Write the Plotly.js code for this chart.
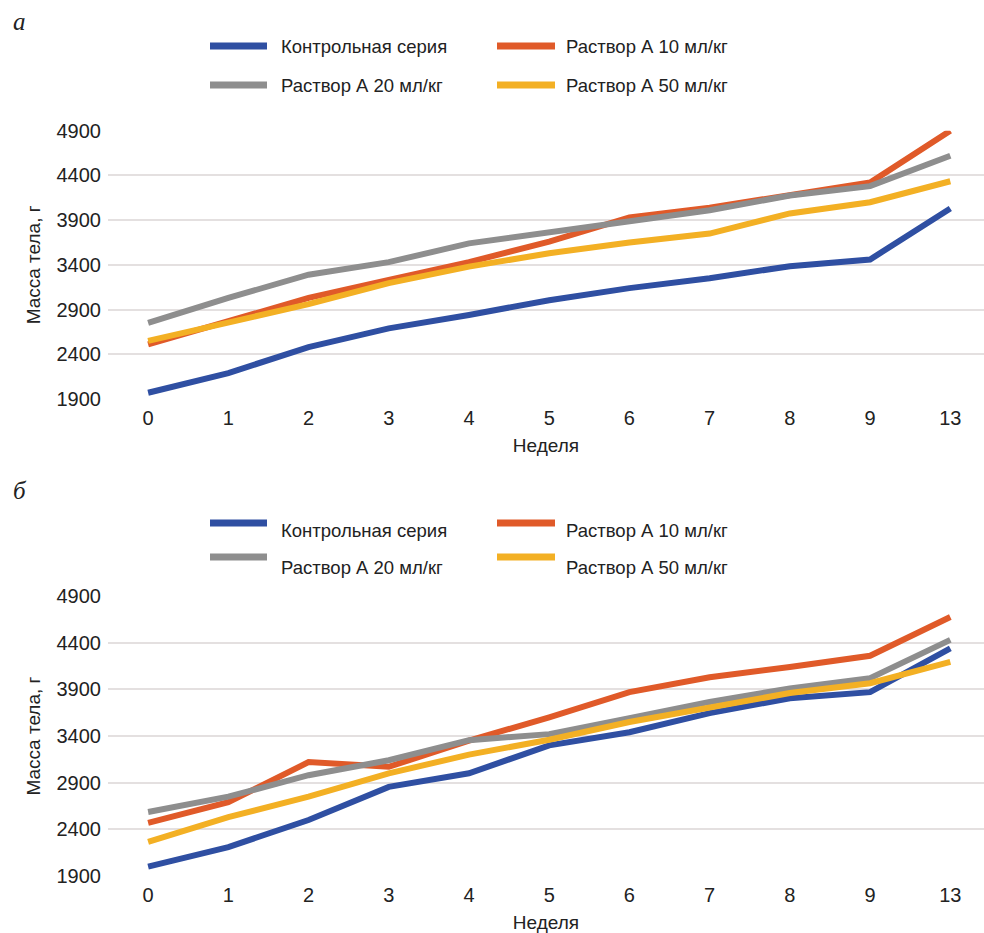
<!DOCTYPE html>
<html>
<head>
<meta charset="utf-8">
<script src="https://cdn.plot.ly/plotly-3.0.1.min.js"></script>
<style>
  html, body { margin: 0; padding: 0; background: #ffffff; }
  #chart { width: 984px; height: 933px; }
</style>
</head>
<body>
<div id="chart"></div>
<script>
// ---- data ----
const weeks = ["0", "1", "2", "3", "4", "5", "6", "7", "8", "9", "13"];
const seriesNames = ["Контрольная серия", "Раствор А 10 мл/кг", "Раствор А 20 мл/кг", "Раствор А 50 мл/кг"];
const seriesColors = ["#2f4fa2", "#e05a29", "#8e8e8e", "#f3b024"];

// panel а
const aControl = [1970, 2190, 2480, 2690, 2840, 3005, 3140, 3250, 3385, 3460, 4030];
const aDose10  = [2510, 2770, 3030, 3230, 3430, 3660, 3930, 4040, 4175, 4320, 4900];
const aDose20  = [2750, 3030, 3290, 3430, 3640, 3765, 3875, 4010, 4175, 4280, 4620];
const aDose50  = [2550, 2750, 2960, 3195, 3380, 3530, 3650, 3750, 3975, 4100, 4335];

// panel б
const bControl = [2000, 2210, 2500, 2855, 3000, 3300, 3440, 3645, 3805, 3870, 4340];
const bDose10  = [2470, 2690, 3120, 3070, 3350, 3600, 3870, 4030, 4140, 4260, 4675];
const bDose20  = [2585, 2750, 2980, 3140, 3355, 3420, 3590, 3765, 3910, 4020, 4430];
const bDose50  = [2265, 2530, 2750, 3000, 3200, 3360, 3550, 3700, 3860, 3965, 4195];

const yTicks = [1900, 2400, 2900, 3400, 3900, 4400, 4900];
const panelLabels = ["а", "б"];
const xTitle = "Неделя";
const yTitle = "Масса тела, г";

// ---- build ----
const W = 984, H = 933;
const idx = weeks.map((_, i) => i);
const px = v => v / W;
const py = v => 1 - v / H;

const aSeries = [aControl, aDose10, aDose20, aDose50];
const bSeries = [bControl, bDose10, bDose20, bDose50];

const traces = [];
[[aSeries, "x", "y"], [bSeries, "x2", "y2"]].forEach(([set, xa, ya]) => {
  set.forEach((vals, k) => {
    traces.push({
      type: "scatter", mode: "lines",
      x: idx, y: vals, name: seriesNames[k],
      xaxis: xa, yaxis: ya,
      line: { color: seriesColors[k], width: 6, shape: "linear" },
      showlegend: false, hoverinfo: "x+y+name"
    });
  });
});

const tickFont = { family: "Liberation Sans, Arial, sans-serif", size: 20, color: "#222222" };
const titleFont = { family: "Liberation Sans, Arial, sans-serif", size: 19, color: "#222222" };
const legendFont = { family: "Liberation Sans, Arial, sans-serif", size: 18.5, color: "#222222" };

function xAxis(anchor) {
  return {
    anchor: anchor, domain: [px(108), 1],
    range: [-0.5, 10.42], tickmode: "array", tickvals: idx, ticktext: weeks,
    showgrid: false, zeroline: false, showline: false, ticks: "",
    ticklabelstandoff: 5, tickfont: tickFont, fixedrange: true,
    title: { text: xTitle, font: titleFont, standoff: 10 }
  };
}
function yAxis(anchor, dom) {
  return {
    anchor: anchor, domain: dom, range: [1900, 4900],
    tickmode: "array", tickvals: yTicks, ticktext: yTicks.map(String),
    showgrid: true, gridcolor: "#e4e0e0", gridwidth: 2,
    zeroline: false, showline: false, ticks: "",
    ticklabelstandoff: 6, tickfont: tickFont, fixedrange: true,
    title: { text: yTitle, font: titleFont, standoff: 10 }
  };
}

const shapes = [];
const annotations = [];

// custom legends
const legendRows = [
  { lineY: [46, 85], textY: [46, 85] },
  { lineY: [523, 557], textY: [530, 567] }
];
const colLine = [[210, 267], [497, 555]];
const colText = [279, 564];
legendRows.forEach(rows => {
  seriesNames.forEach((name, k) => {
    const col = k % 2, row = Math.floor(k / 2);
    shapes.push({
      type: "line", xref: "paper", yref: "paper",
      x0: px(colLine[col][0]), x1: px(colLine[col][1]),
      y0: py(rows.lineY[row]), y1: py(rows.lineY[row]),
      line: { color: seriesColors[k], width: 7 }
    });
    annotations.push({
      xref: "paper", yref: "paper", x: px(colText[col]), y: py(rows.textY[row]),
      xanchor: "left", yanchor: "middle", showarrow: false,
      text: name, font: legendFont
    });
  });
});

// panel labels
[22, 490].forEach((yy, i) => {
  annotations.push({
    xref: "paper", yref: "paper", x: px(11), y: py(yy),
    xanchor: "left", yanchor: "middle", showarrow: false,
    text: "<i>" + panelLabels[i] + "</i>",
    font: { family: "Liberation Serif, DejaVu Serif, serif", size: 25, color: "#222222" }
  });
});

const layout = {
  width: W, height: H,
  margin: { l: 0, r: 0, t: 0, b: 0 },
  paper_bgcolor: "#ffffff", plot_bgcolor: "#ffffff",
  showlegend: false,
  xaxis: xAxis("y"),
  yaxis: yAxis("x", [py(399), py(130.7)]),
  xaxis2: xAxis("y2"),
  yaxis2: yAxis("x2", [py(876), py(596)]),
  shapes: shapes,
  annotations: annotations
};

Plotly.newPlot("chart", traces, layout, { displayModeBar: false, staticPlot: true });
</script>
</body>
</html>
